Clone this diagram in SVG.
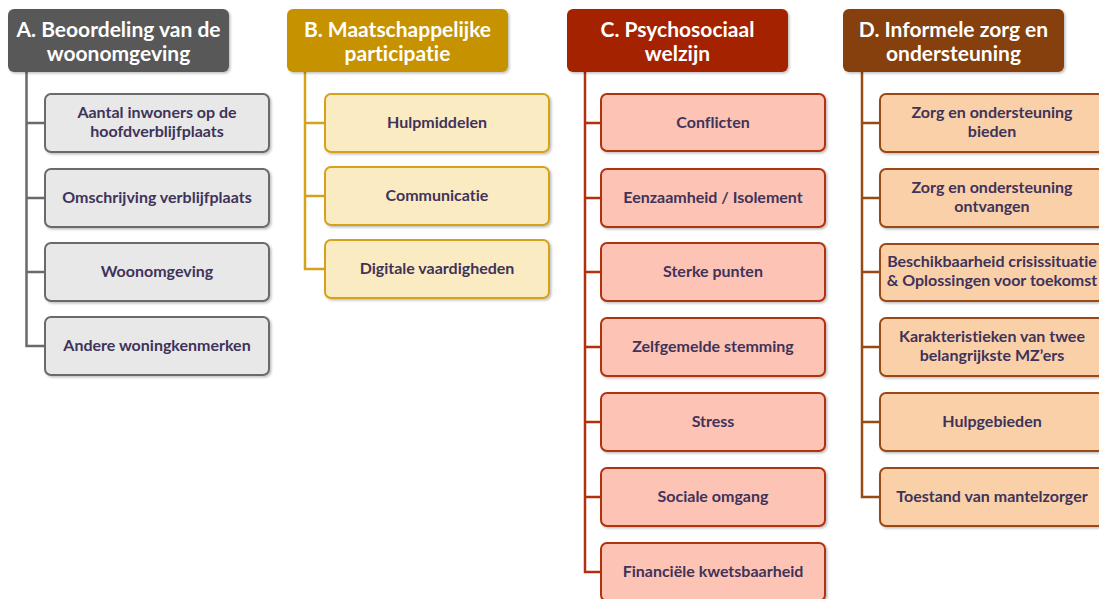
<svg xmlns="http://www.w3.org/2000/svg" width="1099" height="599" viewBox="0 0 1099 599">
  <defs>
    <filter id="shadow" x="-5%" y="-10%" width="115%" height="130%">
      <feDropShadow dx="1.5" dy="1.5" stdDeviation="1.2" flood-color="#000" flood-opacity="0.25"/>
    </filter>
  </defs>
  <style>
    text { font-family: Lato, "Liberation Sans", sans-serif; font-weight: bold; text-anchor: middle; font-variant-ligatures: none; }
    .head text { fill: #ffffff; font-size: 21px; }
    .item text { fill: #3f3359; font-size: 16px; }
    .head rect, .item rect { filter: url(#shadow); }
    .item rect { stroke-width: 2; }
    .conn path { fill: none; stroke-width: 2.5; }
    .a .head rect { fill: #595959; }
    .a .item rect { fill: #e8e8e8; stroke: #6a6a6a; }
    .b .head rect { fill: #c79200; }
    .b .item rect { fill: #fbebc3; stroke: #d4a31c; }
    .c .head rect { fill: #a52000; }
    .c .item rect { fill: #fdc3b4; stroke: #b2300f; }
    .d .head rect { fill: #853f0c; }
    .d .item rect { fill: #fad0a9; stroke: #994a14; }
  </style>
  <rect width="1099" height="599" fill="#ffffff"/>

  <!-- connectors -->
  <g id="connectors" class="conn">
    <path stroke="#6a6a6a" d="M26.5 72 V346 H45 M26.5 123 H45 M26.5 198 H45 M26.5 272 H45"/>
    <path stroke="#d4a31c" d="M305 72 V269 H325 M305 123 H325 M305 196 H325"/>
    <path stroke="#b2300f" d="M585 72 V572 H601 M585 123 H601 M585 198 H601 M585 272 H601 M585 347 H601 M585 422 H601 M585 497 H601"/>
    <path stroke="#994a14" d="M862 72 V497 H880 M862 123 H880 M862 198 H880 M862 272 H880 M862 347 H880 M862 422 H880"/>
  </g>

  <!-- A -->
  <g class="a">
    <g id="A" class="head"><rect x="8" y="9" width="221" height="63" rx="6"/>
      <text x="118.5" y="37">A. Beoordeling van de</text><text x="118.5" y="61">woonomgeving</text></g>
    <g id="A1" class="item"><rect x="45" y="94" width="224" height="58" rx="6"/>
      <text x="157" y="118">Aantal inwoners op de</text><text x="157" y="137">hoofdverblijfplaats</text></g>
    <g id="A2" class="item"><rect x="45" y="169" width="224" height="58" rx="6"/>
      <text x="157" y="203">Omschrijving verblijfplaats</text></g>
    <g id="A3" class="item"><rect x="45" y="243" width="224" height="58" rx="6"/>
      <text x="157" y="277">Woonomgeving</text></g>
    <g id="A4" class="item"><rect x="45" y="317" width="224" height="58" rx="6"/>
      <text x="157" y="351">Andere woningkenmerken</text></g>
  </g>

  <!-- B -->
  <g class="b">
    <g id="B" class="head"><rect x="287" y="9" width="221" height="63" rx="6"/>
      <text x="397.5" y="37">B. Maatschappelijke</text><text x="397.5" y="61">participatie</text></g>
    <g id="B1" class="item"><rect x="325" y="94" width="224" height="58" rx="6"/>
      <text x="437" y="128">Hulpmiddelen</text></g>
    <g id="B2" class="item"><rect x="325" y="167" width="224" height="58" rx="6"/>
      <text x="437" y="201">Communicatie</text></g>
    <g id="B3" class="item"><rect x="325" y="240" width="224" height="58" rx="6"/>
      <text x="437" y="274">Digitale vaardigheden</text></g>
  </g>

  <!-- C -->
  <g class="c">
    <g id="C" class="head"><rect x="567" y="9" width="221" height="63" rx="6"/>
      <text x="677.5" y="37">C. Psychosociaal</text><text x="677.5" y="61">welzijn</text></g>
    <g id="C1" class="item"><rect x="601" y="94" width="224" height="57" rx="6"/>
      <text x="713" y="128">Conflicten</text></g>
    <g id="C2" class="item"><rect x="601" y="169" width="224" height="58" rx="6"/>
      <text x="713" y="203">Eenzaamheid / Isolement</text></g>
    <g id="C3" class="item"><rect x="601" y="243" width="224" height="58" rx="6"/>
      <text x="713" y="277">Sterke punten</text></g>
    <g id="C4" class="item"><rect x="601" y="318" width="224" height="58" rx="6"/>
      <text x="713" y="352">Zelfgemelde stemming</text></g>
    <g id="C5" class="item"><rect x="601" y="393" width="224" height="58" rx="6"/>
      <text x="713" y="427">Stress</text></g>
    <g id="C6" class="item"><rect x="601" y="468" width="224" height="58" rx="6"/>
      <text x="713" y="502">Sociale omgang</text></g>
    <g id="C7" class="item"><rect x="601" y="543" width="224" height="58" rx="6"/>
      <text x="713" y="577">Financiële kwetsbaarheid</text></g>
  </g>

  <!-- D -->
  <g class="d">
    <g id="D" class="head"><rect x="843" y="9" width="221" height="63" rx="6"/>
      <text x="953.5" y="37">D. Informele zorg en</text><text x="953.5" y="61">ondersteuning</text></g>
    <g id="D1" class="item"><rect x="880" y="94" width="224" height="58" rx="6"/>
      <text x="992" y="118">Zorg en ondersteuning</text><text x="992" y="137">bieden</text></g>
    <g id="D2" class="item"><rect x="880" y="169" width="224" height="58" rx="6"/>
      <text x="992" y="193">Zorg en ondersteuning</text><text x="992" y="212">ontvangen</text></g>
    <g id="D3" class="item"><rect x="880" y="244" width="224" height="57" rx="6"/>
      <text x="992" y="267">Beschikbaarheid crisissituatie</text><text x="992" y="286">&amp; Oplossingen voor toekomst</text></g>
    <g id="D4" class="item"><rect x="880" y="318" width="224" height="58" rx="6"/>
      <text x="992" y="342">Karakteristieken van twee</text><text x="992" y="361">belangrijkste MZ’ers</text></g>
    <g id="D5" class="item"><rect x="880" y="393" width="224" height="58" rx="6"/>
      <text x="992" y="427">Hulpgebieden</text></g>
    <g id="D6" class="item"><rect x="880" y="468" width="224" height="58" rx="6"/>
      <text x="992" y="502">Toestand van mantelzorger</text></g>
  </g>
</svg>
